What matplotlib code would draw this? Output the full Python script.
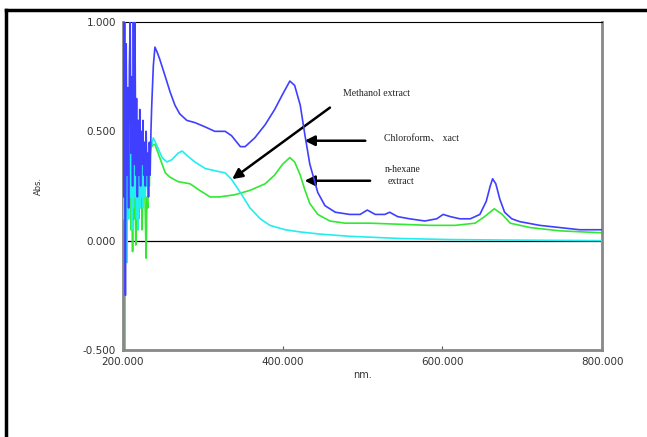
import matplotlib
matplotlib.use("Agg")
import matplotlib.pyplot as plt
from matplotlib.lines import Line2D

# ---------------- data ----------------
noise_wl = list(range(200, 237))
chloro_noise = [1.0, 0.2, 1.0, -0.25, 0.9, 0.3, 0.7, 0.15, 0.8, 1.0, 0.4, 0.75,
                0.25, 1.0, 0.35, 1.0, 0.3, 0.65, 0.2, 0.55, 0.3, 0.6, 0.25, 0.5,
                0.35, 0.55, 0.3, 0.45, 0.25, 0.5, 0.3, 0.4, 0.2, 0.45, 0.3, 0.5, 0.62]
methanol_noise = [0.95, 0.1, 0.8, 0.05, 0.6, -0.1, 0.5, 0.1, 0.55, 0.2, 0.45, 0.05,
                  0.4, 0.15, 0.35, 0.2, 0.4, 0.1, 0.3, 0.05, 0.35, 0.15, 0.3, 0.2,
                  0.35, 0.15, 0.3, 0.2, 0.35, 0.25, 0.3, 0.2, 0.35, 0.3, 0.4, 0.45, 0.44]
hexane_noise = [0.6, 0.4, -0.5, 0.5, 0.2, 0.45, 0.1, 0.55, 0.15, 0.4, 0.05, 0.3,
                -0.05, 0.35, 0.1, 0.25, -0.02, 0.3, 0.05, 0.25, 0.1, 0.3, 0.15, 0.28,
                0.05, 0.25, 0.2, 0.3, 0.1, -0.08, 0.2, 0.15, 0.3, 0.25, 0.4, 0.44, 0.43]

chloro_wl = [238, 240, 243, 246, 253, 259, 265, 271, 280, 290, 303, 315, 328, 336,
             347, 353, 365, 378, 390, 400, 409, 415, 422, 428, 434, 444, 453, 466,
             484, 497, 506, 516, 528, 534, 544, 559, 578, 593, 601, 610, 622, 635,
             647, 655, 660, 663, 667, 672, 678, 687, 697, 722, 747, 772, 800]
chloro_val = [0.8, 0.885, 0.86, 0.83, 0.75, 0.68, 0.62, 0.58, 0.55, 0.54, 0.52, 0.50,
              0.50, 0.48, 0.43, 0.43, 0.47, 0.53, 0.60, 0.67, 0.73, 0.71, 0.62, 0.48,
              0.35, 0.22, 0.16, 0.13, 0.12, 0.12, 0.14, 0.12, 0.12, 0.13, 0.11, 0.10,
              0.09, 0.10, 0.12, 0.11, 0.10, 0.10, 0.12, 0.18, 0.25, 0.283, 0.26, 0.19,
              0.13, 0.10, 0.087, 0.07, 0.06, 0.05, 0.05]

methanol_wl = [238, 243, 249, 255, 261, 269, 274, 280, 290, 303, 315, 328, 336, 347,
               359, 372, 384, 403, 422, 447, 484, 547, 610, 672, 800]
methanol_val = [0.47, 0.43, 0.38, 0.36, 0.37, 0.40, 0.41, 0.39, 0.36, 0.33, 0.32, 0.31,
                0.28, 0.22, 0.15, 0.10, 0.07, 0.05, 0.04, 0.03, 0.02, 0.01, 0.005,
                0.003, 0.0]

hexane_wl = [238, 240, 246, 253, 259, 269, 284, 296, 309, 321, 340, 359, 378, 390,
             400, 409, 415, 422, 428, 434, 444, 459, 478, 509, 547, 584, 616, 641,
             653, 665, 675, 685, 710, 747, 800]
hexane_val = [0.44, 0.44, 0.38, 0.31, 0.29, 0.27, 0.26, 0.23, 0.20, 0.20, 0.21, 0.23,
              0.26, 0.30, 0.35, 0.38, 0.36, 0.30, 0.23, 0.17, 0.12, 0.09, 0.08, 0.08,
              0.075, 0.07, 0.07, 0.08, 0.11, 0.146, 0.12, 0.08, 0.06, 0.045, 0.036]

x_ticks = [200, 400, 600, 800]
x_tick_labels = ["200.000", "400.000", "600.000", "800.000"]
y_ticks = [-0.5, 0.0, 0.5, 1.0]
y_tick_labels = ["-0.500", "0.000", "0.500", "1.000"]

# ---------------- figure ----------------
fig = plt.figure(figsize=(6.47, 4.37), dpi=100)
ax = fig.add_axes([123 / 647, 1 - 350 / 437, (602 - 123) / 647, (350 - 22) / 437])

ax.axhline(0, color="black", lw=0.9, zorder=1)

ax.plot(noise_wl + hexane_wl, hexane_noise + hexane_val, color="#33e833", lw=1.2, zorder=2)
ax.plot(noise_wl + methanol_wl, methanol_noise + methanol_val, color="#22eeee", lw=1.2, zorder=3)
ax.plot(noise_wl + chloro_wl, chloro_noise + chloro_val, color="#3f3fff", lw=1.2, zorder=4)

ax.set_xlim(200, 800)
ax.set_ylim(-0.5, 1.0)
ax.set_xticks(x_ticks)
ax.set_xticklabels(x_tick_labels)
ax.set_yticks(y_ticks)
ax.set_yticklabels(y_tick_labels)
ax.tick_params(axis="x", direction="in", length=3, width=0.8, color="#555555",
               labelsize=7.5, labelcolor="#333333", pad=5)
ax.tick_params(axis="y", length=0, labelsize=7.5, labelcolor="#333333", pad=5)
for lab in ax.get_xticklabels() + ax.get_yticklabels():
    lab.set_family("DejaVu Sans")

for s in ["left", "bottom", "right"]:
    ax.spines[s].set_color("#888888")
    ax.spines[s].set_linewidth(2)
ax.spines["top"].set_color("black")
ax.spines["top"].set_linewidth(0.8)

ax.set_xlabel("nm.", fontsize=7, family="DejaVu Sans", color="#333333", labelpad=2)
ax.text(38 / 647, 1 - 186 / 437, "Abs.", transform=fig.transFigure, rotation=90,
        fontsize=6, family="DejaVu Sans", color="#333333", ha="center", va="center")

# annotations
arrow_kw = dict(arrowstyle="-|>,head_length=0.6,head_width=0.3", color="black", lw=1.8)
ax.annotate("", xy=(334, 0.274), xytext=(462, 0.616), arrowprops=arrow_kw)
ax.annotate("", xy=(424, 0.457), xytext=(507, 0.457), arrowprops=arrow_kw)
ax.annotate("", xy=(424, 0.274), xytext=(513, 0.274), arrowprops=arrow_kw)

tkw = dict(fontsize=7, family=["Liberation Serif", "Noto Sans CJK JP"], color="#222222",
           va="center", ha="left")
ax.text(476, 0.671, "Methanol extract", **tkw)
ax.text(527, 0.466, "Chloroform\u3001 xact", **tkw)
ax.text(528, 0.324, "n-hexane", **tkw)
ax.text(532, 0.270, "extract", **tkw)

# outer frame (top and left edges)
fig.add_artist(Line2D([6 / 647, 1.0], [1 - 10 / 437, 1 - 10 / 437],
                      transform=fig.transFigure, color="black", lw=2.5))
fig.add_artist(Line2D([6 / 647, 6 / 647], [0, 1 - 10 / 437],
                      transform=fig.transFigure, color="black", lw=2.5))

fig.savefig("out.png", dpi=100)
